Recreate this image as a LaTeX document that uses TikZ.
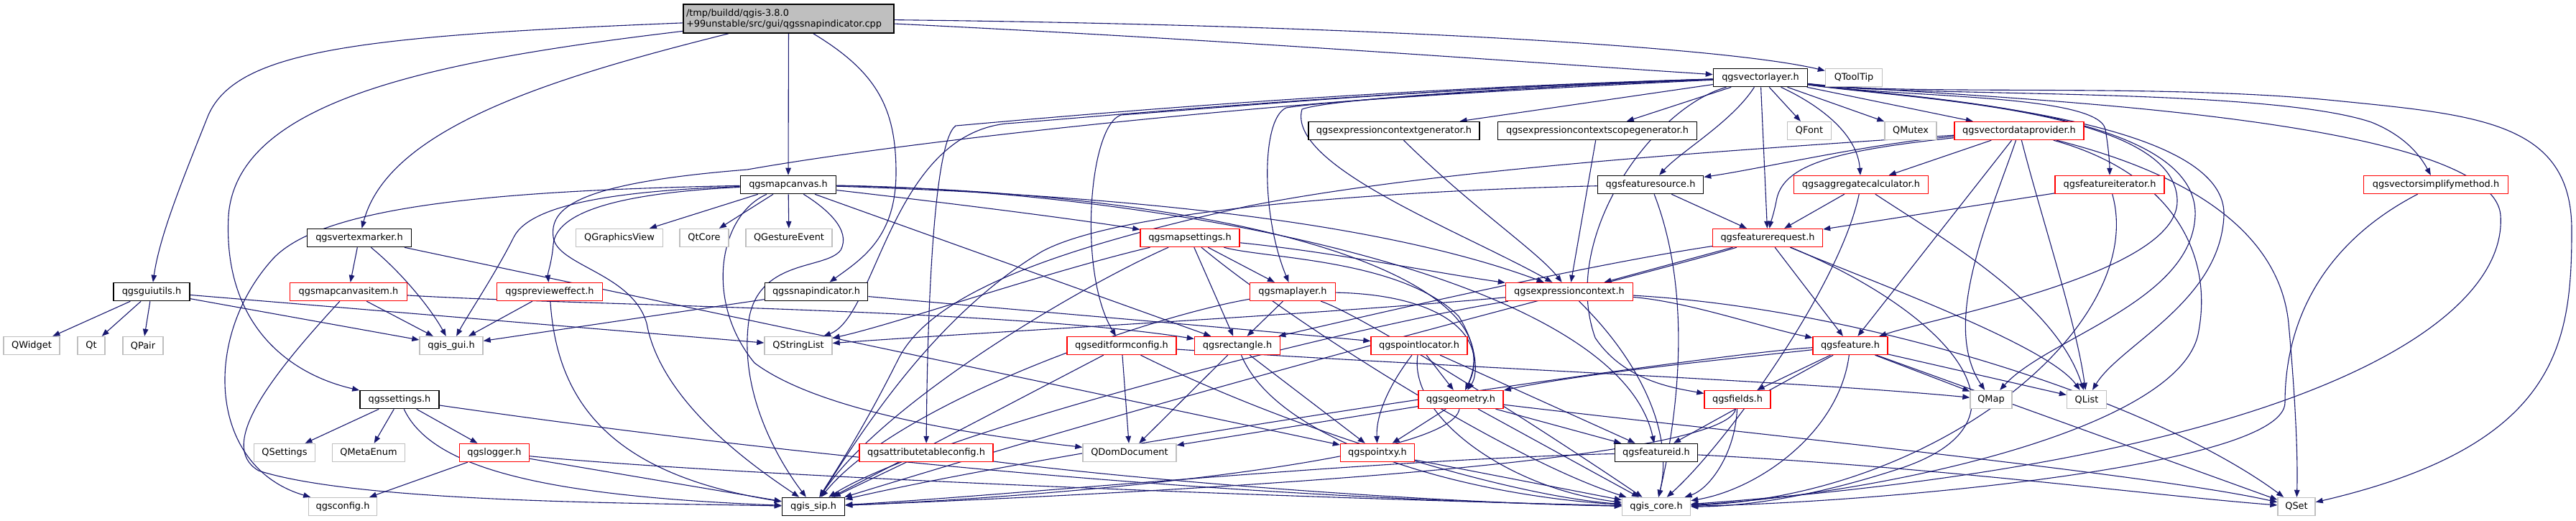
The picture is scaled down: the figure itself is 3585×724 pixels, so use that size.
\documentclass[tikz,border=0pt]{standalone}
\usepackage{fontspec}
\setmainfont{DejaVu Sans}
\usetikzlibrary{arrows.meta,backgrounds}
\definecolor{edgec}{HTML}{191970}
\definecolor{redb}{HTML}{FF0000}
\definecolor{grayb}{HTML}{BFBFBF}
\definecolor{rootf}{HTML}{BFBFBF}
\pgfdeclarelayer{bgfill}
\pgfdeclarelayer{edges}
\pgfsetlayers{bgfill,edges,main}
\tikzset{
  box/.style={draw, rectangle, inner sep=0pt, minimum height=25pt, fill=white,
    font=\fontsize{12.9pt}{15pt}\selectfont},
  nb/.style={box, draw=black, line width=1.6pt},
  nr/.style={box, draw=redb, line width=1.4pt},
  ng/.style={box, draw=grayb, line width=1.4pt},
  e/.style={draw=edgec, line width=1.1pt, -{Triangle[length=10pt,width=7.5pt]}},
}
\begin{document}
\begin{tikzpicture}[x=1pt,y=-1pt]
\begin{pgfonlayer}{bgfill}
\fill[white] (0,0) rectangle (3585,724);
\end{pgfonlayer}
\useasboundingbox (0,0) rectangle (3585,724);
% nodes
\node[nb, fill=rootf, minimum width=293, minimum height=40, align=left, text width=285] (root) at (1097.5,26) {/tmp/buildd/qgis-3.8.0\\+99unstable/src/gui/qgssnapindicator.cpp};
\node[nb, minimum width=131] (vl) at (2450,108) {qgsvectorlayer.h};
\node[ng, minimum width=79] (qtt) at (2580,108) {QToolTip};
\node[nb, minimum width=133] (mc) at (1097,257) {qgsmapcanvas.h};
\node[nb, minimum width=145] (vm) at (500,331) {qgsvertexmarker.h};
\node[ng, minimum width=121] (qgv) at (862,331) {QGraphicsView};
\node[ng, minimum width=68] (qtc) at (980,331) {QtCore};
\node[ng, minimum width=120] (qge) at (1098,331) {QGestureEvent};
\node[nb, minimum width=238] (ecg) at (1940,182) {qgsexpressioncontextgenerator.h};
\node[nb, minimum width=277] (ecsg) at (2223,182) {qgsexpressioncontextscopegenerator.h};
\node[nb, minimum width=147] (fs) at (2297,257) {qgsfeaturesource.h};
\node[nr, minimum width=138] (ms) at (1656,331) {qgsmapsettings.h};
\node[ng, minimum width=61] (qf) at (2518,182) {QFont};
\node[ng, minimum width=72] (qmx) at (2659,182) {QMutex};
\node[nr, minimum width=180] (vdp) at (2810,182) {qgsvectordataprovider.h};
\node[nr, minimum width=187] (agg) at (2590,257) {qgsaggregatecalculator.h};
\node[nr, minimum width=152] (fi) at (2936,257) {qgsfeatureiterator.h};
\node[nr, minimum width=201] (vsm) at (3390,257) {qgsvectorsimplifymethod.h};
\node[nr, minimum width=153] (fr) at (2460,331) {qgsfeaturerequest.h};
\node[nb, minimum width=106] (gu) at (211,406) {qgsguiutils.h};
\node[nr, minimum width=163] (mci) at (485,406) {qgsmapcanvasitem.h};
\node[nr, minimum width=147] (pe) at (765,406) {qgsprevieweffect.h};
\node[nb, minimum width=143] (si) at (1136,406) {qgssnapindicator.h};
\node[nr, minimum width=119] (ml) at (1799,406) {qgsmaplayer.h};
\node[nr, minimum width=177] (ec) at (2184,406) {qgsexpressioncontext.h};
\node[ng, minimum width=78] (qw) at (44,481) {QWidget};
\node[ng, minimum width=38] (qt) at (127,481) {Qt};
\node[ng, minimum width=56] (qp) at (199,481) {QPair};
\node[ng, minimum width=88] (gui) at (628,481) {qgis\_gui.h};
\node[ng, minimum width=94] (qsl) at (1111,481) {QStringList};
\node[nr, minimum width=152] (efc) at (1561,481) {qgseditformconfig.h};
\node[nr, minimum width=119] (rect) at (1722,481) {qgsrectangle.h};
\node[nr, minimum width=134] (pl) at (1975,481) {qgspointlocator.h};
\node[nr, minimum width=104] (feat) at (2575,481) {qgsfeature.h};
\node[nb, minimum width=110] (set) at (556,556) {qgssettings.h};
\node[nr, minimum width=118] (geo) at (2033,556) {qgsgeometry.h};
\node[nr, minimum width=92] (fld) at (2418,556) {qgsfields.h};
\node[ng, minimum width=58] (qmap) at (2771,556) {QMap};
\node[ng, minimum width=55] (qlist) at (2904,556) {QList};
\node[ng, minimum width=85] (qs) at (396,630) {QSettings};
\node[ng, minimum width=101] (qme) at (513,630) {QMetaEnum};
\node[nr, minimum width=97] (log) at (688,630) {qgslogger.h};
\node[nr, minimum width=186] (atc) at (1289,630) {qgsattributetableconfig.h};
\node[ng, minimum width=130] (qdom) at (1572,630) {QDomDocument};
\node[nr, minimum width=103] (pxy) at (1917,630) {qgspointxy.h};
\node[nb, minimum width=115] (fid) at (2305,630) {qgsfeatureid.h};
\node[ng, minimum width=95] (cfg) at (477,705) {qgsconfig.h};
\node[nb, minimum width=87] (sip) at (1132,705) {qgis\_sip.h};
\node[ng, minimum width=95] (core) at (2305,705) {qgis\_core.h};
\node[ng, minimum width=52] (qset) at (3196,705) {QSet};
\begin{pgfonlayer}{edges}
% root
\draw[e] (root) .. controls (500,50) and (330,70) .. (290,160) .. controls (250,260) and (222,330) .. (gu);
\draw[e] (root) .. controls (600,85) and (330,140) .. (318,300) .. controls (310,450) and (400,520) .. (set);
\draw[e] (root) .. controls (760,110) and (540,180) .. (vm);
\draw[e] (root) -- (mc);
\draw[e] (root) .. controls (1220,100) and (1247,150) .. (1247,240) .. controls (1247,330) and (1200,360) .. (si);
\draw[e] (root) .. controls (1700,55) and (2100,85) .. (vl);
\draw[e] (root) .. controls (1900,35) and (2400,65) .. (qtt);
% vectorlayer: left bundle
\draw[e] (vl) -- (ecg);
\draw[e] (vl) -- (ecsg);
\draw[e] (vl) .. controls (2100,125) and (1850,140) .. (1790,150) .. controls (1755,165) and (1755,300) .. (ml);
\draw[e] (vl) .. controls (2100,122) and (1850,138) .. (1812,152) .. controls (1790,230) and (2030,320) .. (ec);
\draw[e] (vl) .. controls (2000,122) and (1700,150) .. (1560,160) .. controls (1515,175) and (1500,380) .. (efc);
\draw[e] (vl) .. controls (1900,124) and (1500,160) .. (1330,175) .. controls (1295,200) and (1290,500) .. (atc);
\draw[e] (vl) .. controls (1900,126) and (1500,165) .. (1400,172) .. controls (1240,190) and (1220,440) .. (qsl);
\draw[e] (vl) .. controls (1900,128) and (1300,190) .. (1040,236) .. controls (800,255) and (765,290) .. (770,330) .. controls (775,370) and (880,380) .. (900,450) .. controls (920,560) and (1050,650) .. (sip);
% vectorlayer: down
\draw[e] (vl) .. controls (2410,170) and (2340,210) .. (fs);
\draw[e] (vl) -- (fr);
\draw[e] (vl) -- (qf);
\draw[e] (vl) -- (qmx);
\draw[e] (vl) -- (vdp);
\draw[e] (vl) .. controls (2540,150) and (2585,190) .. (agg);
\draw[e] (vl) .. controls (2300,150) and (2170,330) .. (2220,470) .. controls (2260,530) and (2330,540) .. (fld);
% vectorlayer: right bundle (leaving under QToolTip)
\draw[e] (vl) .. controls (2640,136) and (2920,130) .. (2930,180) .. controls (2935,210) and (2936,230) .. (fi);
\draw[e] (vl) .. controls (2650,136) and (3150,120) .. (3300,170) .. controls (3350,190) and (3370,220) .. (vsm);
\draw[e] (vl) .. controls (2650,134) and (3000,115) .. (3250,140) .. controls (3450,160) and (3579,170) .. (3579,320) .. controls (3579,480) and (3560,620) .. (qset);
\draw[e] (vl) .. controls (2650,138) and (3030,150) .. (3030,280) .. controls (3030,380) and (2700,440) .. (feat);
\draw[e] (vl) .. controls (2650,137) and (3060,150) .. (3055,300) .. controls (3050,420) and (2850,470) .. (qmap);
\draw[e] (vl) .. controls (2650,136) and (3100,160) .. (3095,300) .. controls (3090,420) and (2950,480) .. (qlist);
\draw[e] (vl) .. controls (2650,133) and (3470,150) .. (3480,300) .. controls (3490,450) and (3200,640) .. (core);
% vectordataprovider
\draw[e] (vdp) .. controls (2600,200) and (2450,235) .. (fs);
\draw[e] (vdp) -- (agg);
\draw[e] (vdp) .. controls (2550,210) and (2480,230) .. (2472,280) .. controls (2468,300) and (2464,310) .. (fr);
\draw[e] (vdp) -- (feat);
\draw[e] (vdp) .. controls (2770,300) and (2700,450) .. (qmap);
\draw[e] (vdp) .. controls (2840,300) and (2890,450) .. (qlist);
\draw[e] (vdp) .. controls (3000,230) and (3170,300) .. (3185,450) .. controls (3195,560) and (3198,640) .. (qset);
\draw[e] (vdp) .. controls (3020,240) and (3080,350) .. (3060,460) .. controls (3040,600) and (2600,690) .. (core);
\draw[e] (vdp) .. controls (2400,210) and (2000,235) .. (1736,287) .. controls (1500,340) and (1300,400) .. (1250,500) .. controls (1200,600) and (1160,660) .. (sip);
% aggregate, iterator, simplify, source
\draw[e] (agg) -- (fr);
\draw[e] (agg) .. controls (2560,400) and (2400,620) .. (core);
\draw[e] (agg) .. controls (2700,330) and (2860,420) .. (qlist);
\draw[e] (fi) -- (fr);
\draw[e] (fi) .. controls (2990,450) and (2700,690) .. (core);
\draw[e] (vsm) .. controls (3230,340) and (3180,450) .. (3180,560) .. controls (3180,650) and (2600,700) .. (core);
\draw[e] (fs) -- (fr);
\draw[e] (fs) .. controls (2360,420) and (2330,600) .. (core);
\draw[e] (fs) .. controls (1950,265) and (1560,290) .. (1450,350) .. controls (1300,440) and (1200,600) .. (sip);
\draw[e] (ecg) .. controls (2050,290) and (2140,350) .. (ec);
\draw[e] (ecsg) -- (ec);
% mapsettings
\draw[e] (ms) -- (ml);
\draw[e] (ms) .. controls (1850,350) and (2000,380) .. (ec);
\draw[e] (ms) -- (rect);
\draw[e] (ms) .. controls (1450,380) and (1250,450) .. (qsl);
\draw[e] (ms) .. controls (1500,400) and (1230,560) .. (sip);
\draw[e] (ms) .. controls (1800,450) and (2100,640) .. (core);
\draw[e] (ms) .. controls (1760,360) and (1950,360) .. (2030,440) .. controls (2055,480) and (2058,520) .. (geo);
% mapcanvas
\draw[e] (mc) -- (qgv);
\draw[e] (mc) -- (qtc);
\draw[e] (mc) -- (qge);
\draw[e] (mc) .. controls (1300,280) and (1500,305) .. (ms);
\draw[e] (mc) .. controls (880,268) and (775,290) .. (770,340) .. controls (768,365) and (762,380) .. (pe);
\draw[e] (mc) .. controls (880,265) and (740,280) .. (715,330) .. controls (690,380) and (650,440) .. (gui);
\draw[e] (mc) .. controls (700,265) and (450,285) .. (380,360) .. controls (280,470) and (290,650) .. (cfg);
\draw[e] (mc) .. controls (1150,290) and (1185,320) .. (1170,348) .. controls (1150,375) and (1060,360) .. (1043,440) .. controls (1025,550) and (1090,650) .. (sip);
\draw[e] (mc) .. controls (1500,270) and (1900,300) .. (ec);
\draw[e] (mc) -- (rect);
\draw[e] (mc) .. controls (1750,270) and (2110,390) .. (geo);
\draw[e] (mc) .. controls (1600,265) and (2250,380) .. (fid);
\draw[e] (mc) .. controls (1000,300) and (980,420) .. (1050,505) .. controls (1150,580) and (1400,610) .. (qdom);
% vertexmarker, guiutils
\draw[e] (vm) -- (mci);
\draw[e] (vm) .. controls (560,380) and (600,430) .. (gui);
\draw[e] (vm) -- (pxy);
\draw[e] (gu) -- (qw);
\draw[e] (gu) -- (qt);
\draw[e] (gu) -- (qp);
\draw[e] (gu) -- (gui);
\draw[e] (gu) -- (qsl);
% mapcanvasitem, previeweffect, snapindicator
\draw[e] (mci) -- (gui);
\draw[e] (mci) .. controls (800,425) and (1400,430) .. (rect);
\draw[e] (mci) .. controls (380,520) and (300,620) .. (360,655) .. controls (500,700) and (900,700) .. (sip);
\draw[e] (pe) -- (gui);
\draw[e] (pe) .. controls (775,560) and (850,660) .. (sip);
\draw[e] (si) -- (gui);
\draw[e] (si) .. controls (1400,430) and (1700,455) .. (pl);
% settings, logger
\draw[e] (set) -- (qs);
\draw[e] (set) -- (qme);
\draw[e] (set) -- (log);
\draw[e] (set) .. controls (600,650) and (750,690) .. (sip);
\draw[e] (set) .. controls (1000,620) and (1600,690) .. (core);
\draw[e] (log) -- (cfg);
\draw[e] (log) -- (sip);
\draw[e] (log) .. controls (1000,660) and (1700,690) .. (core);
% maplayer
\draw[e] (ml) -- (rect);
\draw[e] (ml) .. controls (1600,440) and (1250,560) .. (sip);
\draw[e] (ml) .. controls (2010,410) and (2075,470) .. (geo);
\draw[e] (ml) .. controls (1900,440) and (2150,600) .. (core);
% expressioncontext
\draw[e] (ec) .. controls (1800,440) and (1400,460) .. (qsl);
\draw[e] (ec) .. controls (2350,420) and (2450,455) .. (feat);
\draw[e] (ec) .. controls (2600,430) and (3000,560) .. (qset);
\draw[e] (ec) .. controls (2280,500) and (2330,600) .. (core);
\draw[e] (ec) .. controls (1900,450) and (1300,600) .. (sip);
% featurerequest
\draw[e] (fr) -- (ec);
\draw[e] (fr) -- (feat);
\draw[e] (fr) .. controls (2200,370) and (1900,440) .. (rect);
\draw[e] (fr) .. controls (2600,390) and (2850,480) .. (qlist);
\draw[e] (fr) .. controls (2700,430) and (2850,580) .. (2650,650) .. controls (2500,700) and (2400,705) .. (core);
\draw[e] (fr) .. controls (2300,380) and (1800,500) .. (sip);
% feature
\draw[e] (feat) -- (fld);
\draw[e] (feat) -- (qmap);
\draw[e] (feat) -- (qlist);
\draw[e] (feat) -- (qset);
\draw[e] (feat) -- (fid);
\draw[e] (feat) .. controls (2400,500) and (2200,520) .. (geo);
\draw[e] (feat) .. controls (2560,600) and (2450,680) .. (core);
\draw[e] (feat) .. controls (2400,490) and (1500,620) .. (sip);
% fields
\draw[e] (fld) .. controls (2415,630) and (2380,680) .. (core);
\draw[e] (fld) .. controls (2400,650) and (1500,690) .. (sip);
% editformconfig
\draw[e] (efc) -- (qdom);
\draw[e] (efc) -- (sip);
\draw[e] (efc) .. controls (1800,600) and (2100,690) .. (core);
\draw[e] (efc) .. controls (2000,510) and (2500,530) .. (qmap);
% rectangle
\draw[e] (rect) -- (qdom);
\draw[e] (rect) -- (pxy);
\draw[e] (rect) .. controls (1780,620) and (2050,690) .. (core);
% pointlocator
\draw[e] (pl) -- (geo);
\draw[e] (pl) .. controls (1930,540) and (1915,580) .. (pxy);
\draw[e] (pl) -- (fid);
\draw[e] (pl) .. controls (1960,580) and (2100,680) .. (core);
% geometry
\draw[e] (geo) -- (qdom);
\draw[e] (geo) -- (pxy);
\draw[e] (geo) -- (fid);
\draw[e] (geo) -- (core);
\draw[e] (geo) .. controls (2020,640) and (1500,690) .. (sip);
\draw[e] (geo) .. controls (2400,600) and (3000,660) .. (qset);
% attributetableconfig, pointxy, featureid
\draw[e] (atc) -- (sip);
\draw[e] (atc) .. controls (1600,670) and (2000,700) .. (core);
\draw[e] (pxy) -- (core);
\draw[e] (fid) .. controls (2700,650) and (3000,690) .. (qset);
\draw[e] (fid) .. controls (1900,640) and (1400,690) .. (sip);
\end{pgfonlayer}
\end{tikzpicture}
\end{document}
